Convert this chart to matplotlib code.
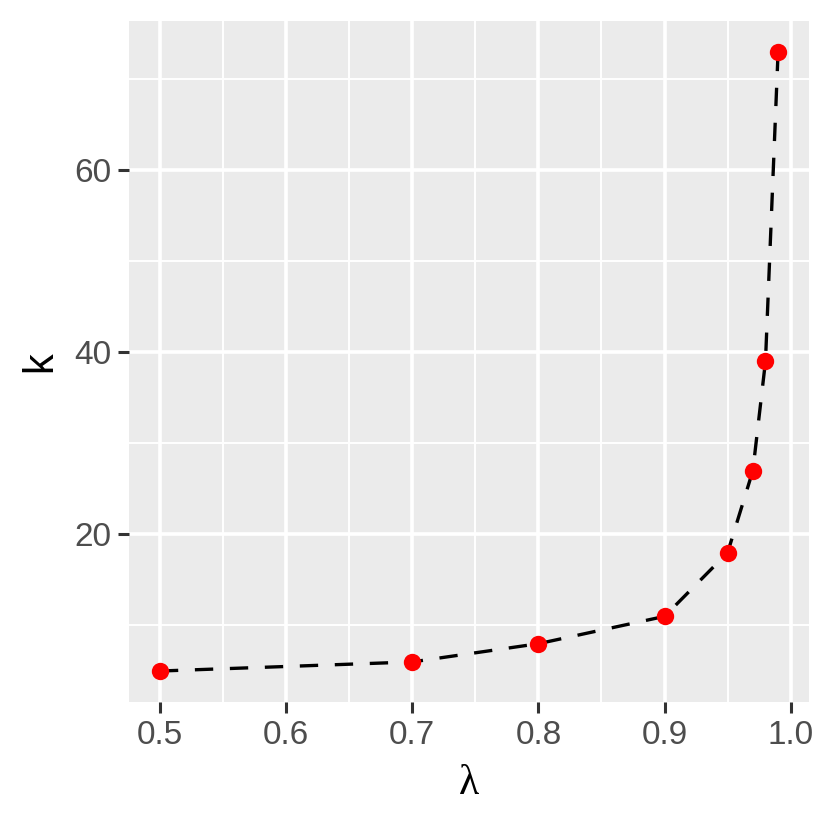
import matplotlib
matplotlib.use("Agg")
import matplotlib.pyplot as plt
from matplotlib.ticker import FixedLocator

# lambda vs k values
lam = [0.5, 0.7, 0.8, 0.9, 0.95, 0.97, 0.98, 0.99]
k = [5, 6, 8, 11, 18, 27, 39, 73]

x_ticks = [0.5, 0.6, 0.7, 0.8, 0.9, 1.0]
x_tick_labels = ["0.5", "0.6", "0.7", "0.8", "0.9", "1.0"]
y_ticks = [20, 40, 60]

plt.rcParams["font.family"] = ["Liberation Sans", "DejaVu Sans"]

fig = plt.figure(figsize=(8.3, 8.3), dpi=100)
ax = fig.add_axes([129 / 830, 1 - 702 / 830, 680 / 830, 681.3 / 830])
ax.set_facecolor("#EBEBEB")

# ggplot-like expansion of 5%
xr = max(lam) - min(lam)
yr = max(k) - min(k)
ax.set_xlim(min(lam) - 0.05 * xr, max(lam) + 0.05 * xr)
ax.set_ylim(min(k) - 0.05 * yr, max(k) + 0.05 * yr)

ax.xaxis.set_major_locator(FixedLocator(x_ticks))
ax.set_xticklabels(x_tick_labels)
ax.xaxis.set_minor_locator(FixedLocator([0.55, 0.65, 0.75, 0.85, 0.95]))
ax.yaxis.set_major_locator(FixedLocator(y_ticks))
ax.yaxis.set_minor_locator(FixedLocator([10, 30, 50, 70]))

ax.grid(which="major", color="white", linewidth=2.6)
ax.grid(which="minor", color="white", linewidth=1.4)
ax.set_axisbelow(True)
for s in ax.spines.values():
    s.set_visible(False)

ax.tick_params(which="major", length=8, width=2.2, color="#333333",
               labelsize=24, labelcolor="#4D4D4D", pad=5)
ax.tick_params(which="minor", length=0)

ax.plot(lam, k, color="black", linewidth=2.4, linestyle=(0, (5.5, 5)), zorder=2)
ax.plot(lam, k, "o", color="red", markersize=12.5, markeredgewidth=0, zorder=3)

ax.set_xlabel("λ", fontsize=30, family=["Liberation Serif", "DejaVu Serif"], labelpad=10)
ax.set_ylabel("k", fontsize=30, labelpad=10)

fig.savefig("out.png", dpi=100)
